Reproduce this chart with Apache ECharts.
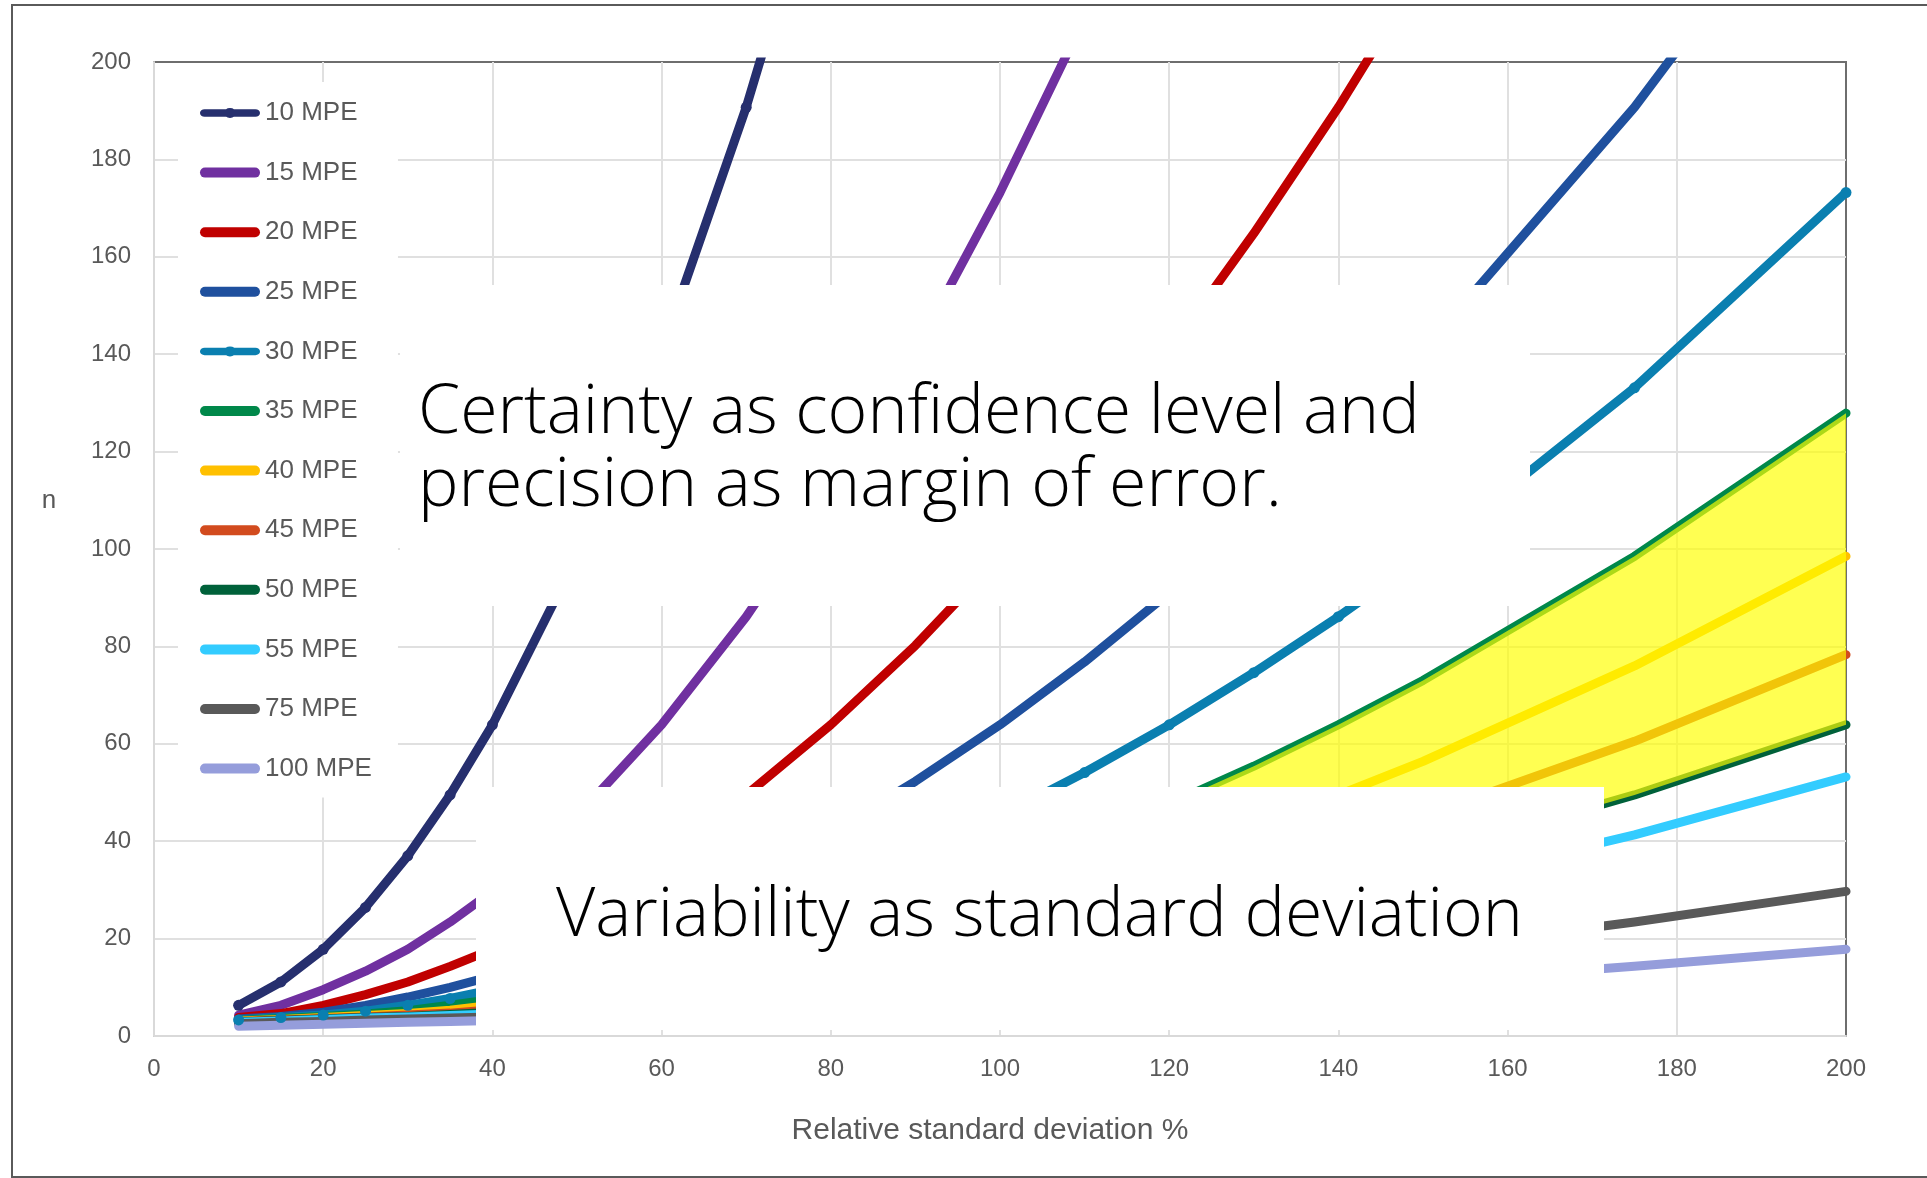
<!DOCTYPE html>
<html>
<head>
<meta charset="utf-8">
<title>Sample size n against relative standard deviation</title>
<script src="https://cdn.jsdelivr.net/npm/echarts@6/dist/echarts.min.js"></script>
<style>
  html, body { margin: 0; padding: 0; background: #fff; }
  #chart { width: 1927px; height: 1178px; }
</style>
</head>
<body>
<div id="chart"></div>
<script>
// relative standard deviation (%) where n was read for every curve
const rsd = [10, 15, 20, 25, 30, 35, 40, 50, 60, 70, 80, 90, 100, 110, 120, 130, 140, 150, 175, 200]

// n per maximum permissible error curve (cut once past 200)
const mpe10 = [6.3, 11.1, 17.8, 26.4, 37.0, 49.5, 63.9, 98.5, 140.7, 190.7, 248.6]
const mpe15 = [4.3, 6.3, 9.5, 13.3, 17.8, 23.4, 29.7, 45.1, 63.9, 86.1, 111.7, 140.7, 173.2, 209.1]
const mpe20 = [3.8, 4.6, 6.3, 8.5, 11.1, 14.3, 17.8, 26.4, 37.0, 49.5, 63.9, 80.2, 98.5, 118.6, 140.7, 164.8, 190.7, 218.8]
const mpe25 = [3.5, 4.0, 4.9, 6.3, 8.0, 10.0, 12.3, 17.8, 24.7, 32.5, 41.8, 52.3, 63.9, 76.8, 91.0, 106.3, 122.8, 140.7, 190.7, 248.6]
const mpe30 = [3.3, 3.8, 4.3, 5.1, 6.3, 7.7, 9.5, 13.3, 17.8, 23.4, 29.7, 37.0, 45.1, 54.1, 63.9, 74.6, 86.1, 98.5, 133.1, 173.2]
const mpe35 = [3.2, 3.6, 4.0, 4.5, 5.2, 6.3, 7.5, 10.4, 13.8, 17.8, 22.5, 27.8, 33.8, 40.3, 47.6, 55.4, 63.9, 73.0, 98.5, 127.9]
const mpe40 = [3.1, 3.4, 3.8, 4.2, 4.6, 5.3, 6.3, 8.5, 11.1, 14.3, 17.8, 21.9, 26.4, 31.5, 37.0, 43.0, 49.5, 56.4, 76.0, 98.5]
const mpe45 = [3.0, 3.3, 3.6, 3.9, 4.3, 4.7, 5.4, 7.3, 9.5, 11.8, 14.6, 17.8, 21.5, 25.4, 29.7, 34.5, 39.6, 45.1, 60.5, 78.3]
const mpe50 = [2.9, 3.2, 3.5, 3.8, 4.0, 4.4, 4.9, 6.3, 8.0, 10.0, 12.3, 14.9, 17.8, 21.1, 24.7, 28.4, 32.5, 37.0, 49.5, 63.9]
const mpe55 = [2.8, 3.1, 3.4, 3.7, 3.9, 4.2, 4.5, 5.6, 7.1, 8.7, 10.7, 12.7, 15.1, 17.8, 20.7, 23.9, 27.3, 31.0, 41.3, 53.2]
const mpe75 = [2.5, 2.8, 3.0, 3.3, 3.5, 3.7, 3.9, 4.3, 4.9, 5.7, 6.8, 8.0, 9.5, 10.9, 12.3, 14.0, 15.8, 17.8, 23.4, 29.7]
const mpe100 = [2.0, 2.2, 2.4, 2.6, 2.8, 3.0, 3.2, 3.5, 3.9, 4.3, 4.8, 5.4, 6.3, 7.1, 8.0, 9.0, 10.0, 11.1, 14.3, 17.8]

// yellow highlighter runs between the 35 and 50 MPE curves from here on
const highlightFrom = 120

const curves = [
  { name: '10 MPE', color: '#262f6e', values: mpe10, marker: true },
  { name: '15 MPE', color: '#7030a0', values: mpe15 },
  { name: '20 MPE', color: '#c00000', values: mpe20 },
  { name: '25 MPE', color: '#1f509e', values: mpe25 },
  { name: '30 MPE', color: '#0a7fb0', values: mpe30, marker: true },
  { name: '35 MPE', color: '#00884a', values: mpe35 },
  { name: '40 MPE', color: '#ffc000', values: mpe40 },
  { name: '45 MPE', color: '#d24b1e', values: mpe45 },
  { name: '50 MPE', color: '#00613a', values: mpe50 },
  { name: '55 MPE', color: '#33ccff', values: mpe55 },
  { name: '75 MPE', color: '#595959', values: mpe75 },
  { name: '100 MPE', color: '#959ddb', values: mpe100 }
]

const labelFont = "'Liberation Sans', Arial, sans-serif"
const bigFont = "300 68px 'Open Sans', 'Noto Sans', sans-serif"
const pill = 'path://M5 0 H55 A5 5 0 0 1 55 10 H5 A5 5 0 0 1 5 0 Z'
const pillDot = 'path://M5 1.5 H55 A4.5 4.5 0 0 1 55 10.5 H5 A4.5 4.5 0 0 1 5 1.5 Z M30 0 A6 6 0 1 1 30 12 A6 6 0 1 1 30 0 Z'

const chart = echarts.init(document.getElementById('chart'))

const lineSeries = curves.map(c => ({
  name: c.name,
  type: 'line',
  data: c.values.map((v, i) => [rsd[i], v]),
  color: c.color,
  symbol: c.marker ? 'circle' : 'none',
  symbolSize: 11,
  showSymbol: !!c.marker,
  clip: true,
  z: 2,
  lineStyle: { width: 9, color: c.color, cap: 'round', join: 'round' },
  itemStyle: { color: c.color }
}))

// highlighter stroke laid over the lines
const highlight = {
  type: 'custom',
  name: 'highlight',
  silent: true,
  z: 10,
  data: [[highlightFrom, 0]],
  renderItem: (params, api) => {
    const top = []
    const bottom = []
    rsd.forEach((x, i) => {
      if (x < highlightFrom) return
      top.push(api.coord([x, mpe35[i]]))
      bottom.push(api.coord([x, mpe50[i]]))
    })
    return {
      type: 'polygon',
      z2: 10,
      shape: { points: top.concat(bottom.reverse()) },
      style: { fill: 'rgba(255,255,0,0.68)' }
    }
  }
}

const option = {
  animation: false,
  backgroundColor: '#fff',
  grid: {
    left: 154, right: 81, top: 62, bottom: 142,
    show: true, borderColor: '#6e6e6e', borderWidth: 2
  },
  legend: {
    orient: 'vertical',
    left: 178,
    top: 82,
    backgroundColor: '#fff',
    padding: [18, 26, 16, 22],
    itemWidth: 60,
    itemHeight: 10,
    itemGap: 33.6,
    symbolKeepAspect: false,
    selectedMode: false,
    textStyle: { color: '#595959', fontSize: 26, lineHeight: 26, fontFamily: labelFont },
    data: curves.map(c => ({ name: c.name, icon: c.marker ? pillDot : pill }))
  },
  xAxis: {
    type: 'value',
    min: 0, max: 200, interval: 20,
    name: 'Relative standard deviation %',
    nameLocation: 'middle',
    nameGap: 80,
    nameTextStyle: { color: '#595959', fontSize: 30, fontFamily: labelFont, padding: [0, 20, 0, 0] },
    axisLine: { show: true, lineStyle: { color: '#d9d9d9', width: 2 } },
    axisTick: { show: false },
    axisLabel: { color: '#595959', fontSize: 24, fontFamily: labelFont, margin: 21 },
    splitLine: { show: true, showMaxLine: false, lineStyle: { color: '#e0e0e0', width: 2 } }
  },
  yAxis: {
    type: 'value',
    min: 0, max: 200, interval: 20,
    axisLine: { show: true, lineStyle: { color: '#d9d9d9', width: 2 } },
    axisTick: { show: false },
    axisLabel: { color: '#595959', fontSize: 24, fontFamily: labelFont, margin: 23 },
    splitLine: { show: true, showMaxLine: false, lineStyle: { color: '#e0e0e0', width: 2 } }
  },
  graphic: [
    // slide frame around the chart picture
    { type: 'rect', silent: true, z: 0, shape: { x: 12, y: 5, width: 1960, height: 1172 },
      style: { fill: 'none', stroke: '#5a5a5a', lineWidth: 2 } },
    // y axis title sits above the middle, as Excel placed it
    { type: 'text', silent: true, z: 5, x: 49, y: 501,
      style: { text: 'n', font: "26px 'Liberation Sans', Arial, sans-serif", fill: '#595959', align: 'center', verticalAlign: 'middle' } },
    // white call-out boxes pasted over the plot
    { type: 'rect', silent: true, z: 100, shape: { x: 400, y: 285, width: 1130, height: 321 }, style: { fill: '#fff' } },
    { type: 'rect', silent: true, z: 100, shape: { x: 476, y: 787, width: 1128, height: 243 }, style: { fill: '#fff' } },
    { type: 'text', silent: true, z: 101, x: 418, y: 414,
      style: { text: 'Certainty as confidence level and', font: bigFont, fill: '#000', align: 'left', verticalAlign: 'middle' } },
    { type: 'text', silent: true, z: 101, x: 418, y: 487,
      style: { text: 'precision as margin of error.', font: bigFont, fill: '#000', align: 'left', verticalAlign: 'middle' } },
    { type: 'text', silent: true, z: 101, x: 556, y: 917,
      style: { text: 'Variability as standard deviation', font: bigFont, fill: '#000', align: 'left', verticalAlign: 'middle' } }
  ],
  series: lineSeries.concat([highlight])
}

chart.setOption(option)
</script>
</body>
</html>
